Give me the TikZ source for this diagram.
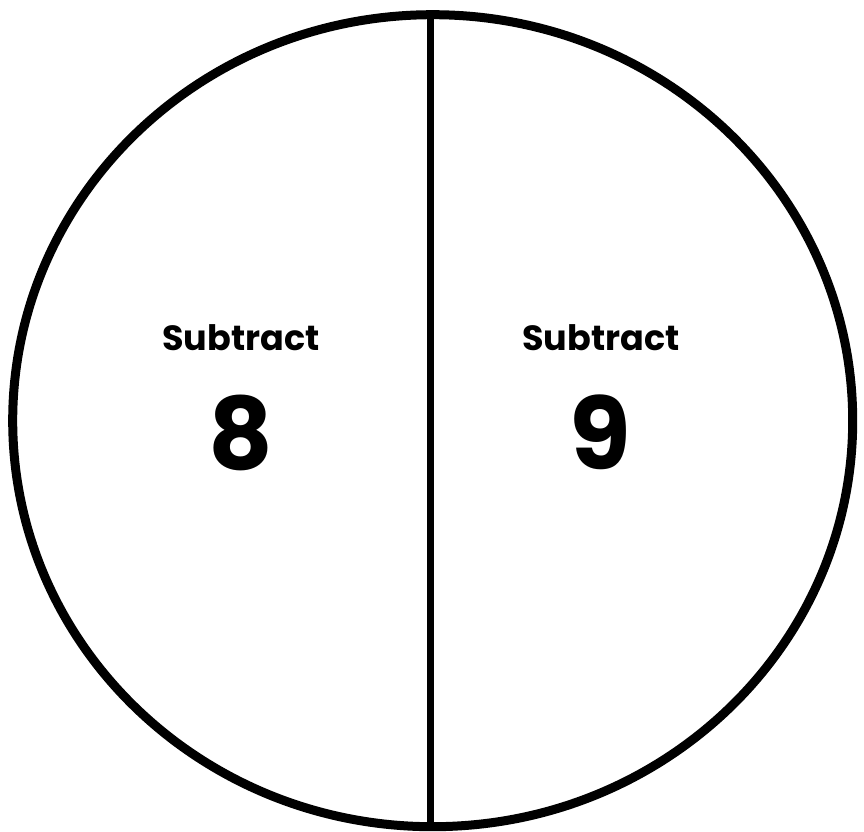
\documentclass[tikz,border=0pt]{standalone}
\usepackage{fontspec}
\setmainfont{Poppins}
\usepackage{tikz}
\usetikzlibrary{positioning}
\tikzset{
  rim/.style   ={draw, line width=9pt},
  split/.style ={draw, line width=7pt},
  word/.style  ={font=\fontsize{35}{37}\selectfont\bfseries, inner sep=0pt},
  num/.style   ={font=\fontsize{100}{100}\selectfont\bfseries, inner sep=0pt},
}

\begin{document}
\begin{tikzpicture}[x=1pt,y=1pt]
  \useasboundingbox (0,0) rectangle (864,831);
  \coordinate (c) at (432.7,410.3);
  \draw[rim] (c) ellipse [x radius=420, y radius=406];
  \coordinate (top) at (430,817);
  \coordinate (bot) at (430,4.5);
  \draw[split] (top) -- (bot);

  \node[word] (subL) at (241,493) {Subtract};
  \node[num] (numL) at (241,398.5) {8};
  \node[word] (subR) at (601,493) {Subtract};
  \node[num] (numR) at (600,399) {9};
\end{tikzpicture}
\end{document}
